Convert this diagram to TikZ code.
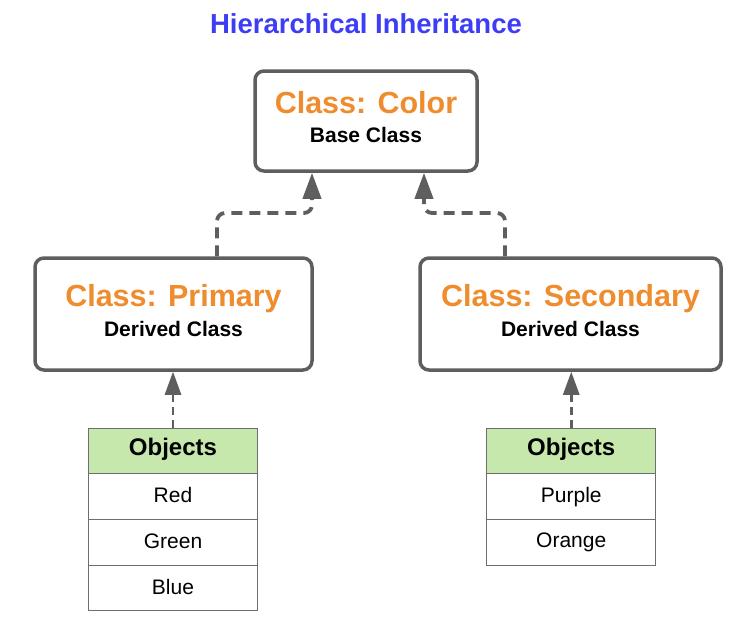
\documentclass[tikz,border=0pt]{standalone}
\usepackage{fontspec}
\setmainfont{Liberation Sans}
\usetikzlibrary{arrows.meta}
\definecolor{titleblue}{RGB}{61,61,245}
\definecolor{clsorange}{RGB}{239,141,46}
\definecolor{linegray}{RGB}{94,94,94}
\definecolor{hdrgreen}{RGB}{199,232,172}
\definecolor{cellgray}{RGB}{110,110,110}
\tikzset{
  classbox/.style={draw=linegray, line width=3.5pt, rounded corners=9pt, fill=white, inner sep=0pt},
  clstitle/.style={anchor=base, text=clsorange, font=\fontsize{30.5}{36}\selectfont\bfseries, inner sep=0pt},
  clssub/.style={anchor=base, text=black, font=\fontsize{21}{25}\selectfont\bfseries, inner sep=0pt},
  cell/.style={draw=cellgray, line width=1pt, fill=white, minimum width=169pt, minimum height=45.75pt, inner sep=0pt},
  hdrcell/.style={cell, fill=hdrgreen},
  celltext/.style={anchor=base, font=\fontsize{21}{25}\selectfont, inner sep=0pt},
  hdrtext/.style={anchor=base, font=\fontsize{24}{28}\selectfont\bfseries, inner sep=0pt},
  upconn/.style={draw=linegray, line width=3.8pt, dash pattern=on 11pt off 7pt, rounded corners=8pt,
    -{Triangle[length=26pt,width=18pt]}},
  objconn/.style={draw=linegray, line width=2.7pt, dash pattern=on 8pt off 5pt,
    -{Triangle[length=23pt,width=16pt]}}
}
\begin{document}
\begin{tikzpicture}[x=1pt,y=-1pt]
\useasboundingbox (0,0) rectangle (737,624);
% title
\node[anchor=base, text=titleblue, font=\fontsize{27.5}{32}\selectfont\bfseries, inner sep=0pt] (title) at (366,33) {Hierarchical Inheritance};
% class boxes
\node[classbox, minimum width=222pt, minimum height=100pt] (color) at (366,121) {};
\node[classbox, minimum width=277pt, minimum height=112pt] (prim) at (173.5,314) {};
\node[classbox, minimum width=301pt, minimum height=112pt] (sec) at (570.5,314) {};
\node[clstitle] (colorT) at (366,113) {Class: Color};
\node[clssub] (colorS) at (366,142) {Base Class};
\node[clstitle] (primT) at (173.5,306) {Class: Primary};
\node[clssub] (primS) at (173.5,336) {Derived Class};
\node[clstitle] (secT) at (570.5,306) {Class: Secondary};
\node[clssub] (secS) at (570.5,336) {Derived Class};
% left object table
\node[hdrcell] (l0) at (173,450.9) {};
\node[cell] (l1) at (173,496.6) {};
\node[cell] (l2) at (173,542.4) {};
\node[cell] (l3) at (173,588.1) {};
\node[hdrtext] (l0t) at (173,455) {Objects};
\node[celltext] (l1t) at (173,502) {Red};
\node[celltext] (l2t) at (173,548) {Green};
\node[celltext] (l3t) at (173,594) {Blue};
% right object table
\node[hdrcell] (r0) at (571.25,450.9) {};
\node[cell] (r1) at (571.25,496.6) {};
\node[cell] (r2) at (571.25,542.4) {};
\node[hdrtext] (r0t) at (571.25,455) {Objects};
\node[celltext] (r1t) at (571.25,502) {Purple};
\node[celltext] (r2t) at (571.25,547) {Orange};
% connectors
\coordinate (pa) at (217,0);
\coordinate (pb) at (312,0);
\coordinate (sa) at (505,0);
\coordinate (sb) at (424,0);
\coordinate (ylvl) at (0,213);
\draw[upconn] (prim.north -| pa) -- (pa |- ylvl) -- (pb |- ylvl) -- (color.south -| pb);
\draw[upconn] (sec.north -| sa) -- (sa |- ylvl) -- (sb |- ylvl) -- (color.south -| sb);
\draw[objconn] (l0.north) -- (prim.south -| l0.north);
\draw[objconn] (r0.north) -- (sec.south -| r0.north);
\end{tikzpicture}
\end{document}
